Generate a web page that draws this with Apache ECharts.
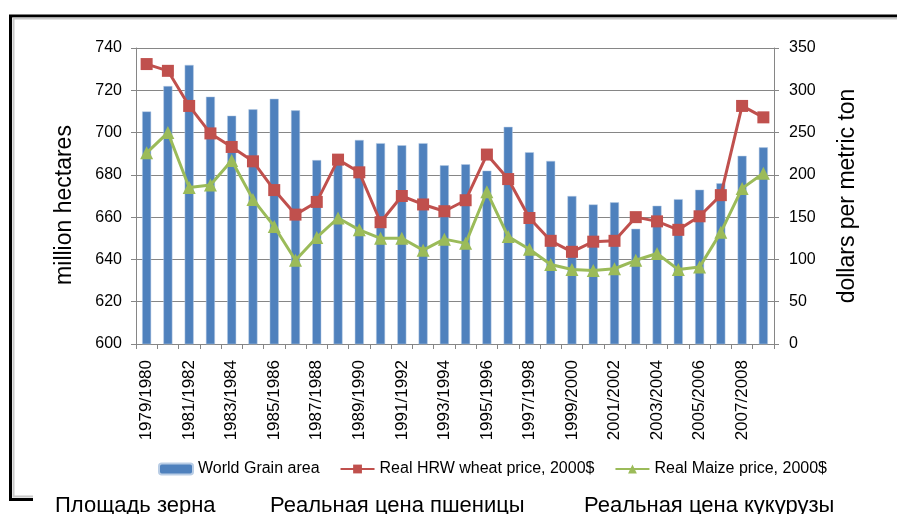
<!DOCTYPE html>
<html>
<head>
	<meta charset="utf-8"/>
	<title>World grain area and prices</title>
	<style type="text/css">
		html, body { margin: 0; padding: 0; background: #fff; }
		#chart { width: 897px; height: 514px; }
	</style>
</head>
<body>
	<div id="chart"></div>
	<script src="https://cdn.jsdelivr.net/npm/echarts@6/dist/echarts.min.js"></script>
	<script type="text/javascript">
		var years = ['1979/1980','1980/1981','1981/1982','1982/1983','1983/1984','1984/1985','1985/1986','1986/1987',
			'1987/1988','1988/1989','1989/1990','1990/1991','1991/1992','1992/1993','1993/1994','1994/1995',
			'1995/1996','1996/1997','1997/1998','1998/1999','1999/2000','2000/2001','2001/2002','2002/2003',
			'2003/2004','2004/2005','2005/2006','2006/2007','2007/2008','2008/2009'];

		// million hectares
		var grainArea = [710, 722, 732, 717, 708, 711, 716, 710.5, 687, 687, 696.5, 695, 694, 695, 684.5,
			685, 682, 702.7, 690.7, 686.6, 670, 666, 667, 654.5, 665.4, 668.5, 673, 676, 689, 693];

		// dollars per metric ton
		var wheatPrice = [331, 323, 281.5, 249, 233, 216, 182, 153, 168, 218, 203, 144, 175, 165, 157,
			170, 224, 195, 149, 122, 109, 121, 122, 150, 145, 135, 151, 176, 281.5, 268];
		var maizePrice = [226, 250, 185, 188, 217, 171, 139, 99, 126, 149, 135, 125, 125, 111, 124,
			119, 180, 127, 112, 94, 88, 87, 89, 99, 107, 88, 91, 132, 184, 202];

		var leftTicks = { min: 600, max: 740, step: 20 };
		var rightTicks = { min: 0, max: 350, step: 50 };

		var ruLabels = ['Площадь зерна', 'Реальная цена пшеницы', 'Реальная цена кукурузы'];
		var ruX = [55, 270, 584];

		var font = 'Liberation Sans';
		var axisGrey = '#868686';

		var chart = echarts.init(document.getElementById('chart'));

		var frame = [
			{ type: 'polyline', shape: { points: [[33, 499.5], [10.5, 499.5], [10.5, 16], [897, 16]] },
				style: { stroke: '#000', lineWidth: 3, fill: null }, silent: true },
			{ type: 'polyline', shape: { points: [[33, 496.5], [13.5, 496.5], [13.5, 18.5], [897, 18.5]] },
				style: { stroke: '#c8c8c8', lineWidth: 2, fill: null }, silent: true }
		];
		for (var i = 0; i < ruLabels.length; i++) {
			frame.push({
				type: 'text', left: ruX[i], top: 495, silent: true,
				style: { text: ruLabels[i], font: '22px "' + font + '"', fill: '#000' }
			});
		}

		var option = {
			animation: false,
			backgroundColor: '#fff',
			textStyle: { fontFamily: font },
			grid: { left: 136, right: 123, top: 48, bottom: 170 },
			legend: {
				left: 153, top: 456,
				itemWidth: 34, itemHeight: 11, itemGap: 20,
				textStyle: { fontSize: 16, color: '#000', fontFamily: font },
				data: ['World Grain area', 'Real HRW wheat price, 2000$', 'Real Maize price, 2000$']
			},
			xAxis: {
				type: 'category',
				data: years,
				boundaryGap: true,
				axisLine: { lineStyle: { color: axisGrey, width: 1 } },
				axisTick: { show: true, interval: 0, length: 5, lineStyle: { color: axisGrey } },
				axisLabel: { interval: 1, rotate: 90, fontSize: 17, color: '#000', margin: 16 }
			},
			yAxis: [
				{
					type: 'value', min: leftTicks.min, max: leftTicks.max, interval: leftTicks.step,
					name: 'million hectares', nameLocation: 'middle', nameGap: 60,
					nameTextStyle: { fontSize: 23, color: '#000', padding: [0, 18, 0, 0] },
					axisLine: { show: true, lineStyle: { color: axisGrey } },
					axisTick: { show: true, length: 5, lineStyle: { color: axisGrey } },
					axisLabel: { fontSize: 16, color: '#000', margin: 14 },
					splitLine: { lineStyle: { color: axisGrey, width: 1 } }
				},
				{
					type: 'value', min: rightTicks.min, max: rightTicks.max, interval: rightTicks.step,
					name: 'dollars per metric ton', nameLocation: 'middle', nameGap: 62,
					nameTextStyle: { fontSize: 23, color: '#000' },
					axisLine: { show: true, lineStyle: { color: axisGrey } },
					axisTick: { show: true, length: 5, lineStyle: { color: axisGrey } },
					axisLabel: { fontSize: 16, color: '#000', margin: 15 },
					splitLine: { show: false }
				}
			],
			series: [
				{
					name: 'World Grain area', type: 'bar', yAxisIndex: 0,
					barWidth: 9,
					itemStyle: { color: '#4F81BD', borderColor: '#b9cde5', borderWidth: 0.5 },
					data: grainArea
				},
				{
					name: 'Real HRW wheat price, 2000$', type: 'line', yAxisIndex: 1,
					symbol: 'rect', symbolSize: 12,
					lineStyle: { color: '#C0504D', width: 3 },
					itemStyle: { color: '#C0504D' },
					data: wheatPrice
				},
				{
					name: 'Real Maize price, 2000$', type: 'line', yAxisIndex: 1,
					symbol: 'triangle', symbolSize: 13,
					lineStyle: { color: '#9BBB59', width: 3 },
					itemStyle: { color: '#9BBB59' },
					data: maizePrice
				}
			],
			graphic: frame
		};

		chart.setOption(option);
	</script>
</body>
</html>
